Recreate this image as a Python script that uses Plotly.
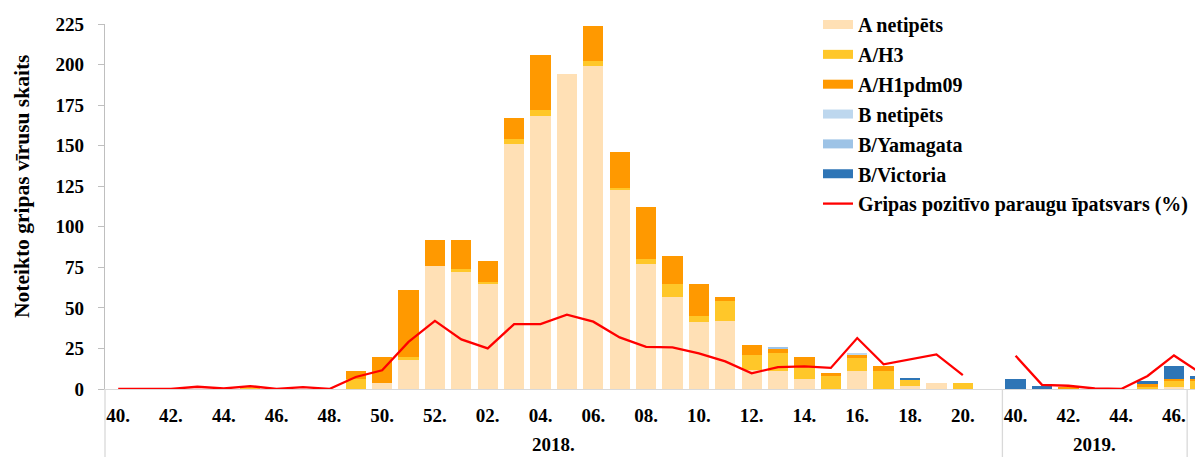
import plotly.graph_objects as go

# ---------------- data ----------------
weeks = ["40.", "41.", "42.", "43.", "44.", "45.", "46.", "47.", "48.", "49.", "50.", "51.", "52.",
         "01.", "02.", "03.", "04.", "05.", "06.", "07.", "08.", "09.", "10.", "11.", "12.", "13.",
         "14.", "15.", "16.", "17.", "18.", "19.", "20.", "21.",
         "40.", "41.", "42.", "43.", "44.", "45.", "46.",
         "47."]
season_labels = ["2018.", "2019.", ""]
season_sizes = [34, 7, 1]

a_net = [0, 0, 0, 0, 0, 0, 0, 0, 0, 0, 4, 18, 76,
         72, 65, 151, 168, 194, 199, 123, 77, 57, 41, 42, 12, 11,
         6, 0, 11, 0, 2, 4, 0, None,
         0, 0, 0, 0, 0, 0, 1,
         0]
a_h3 = [0, 0, 0, 0, 0, 1, 0, 0, 0, 6, 0, 2, 0,
        2, 1, 3, 4, 0, 3, 1, 3, 8, 4, 12, 9, 11,
        8, 8, 8, 11, 4, 0, 4, None,
        0, 0, 0, 0, 0, 1, 4,
        5]
a_h1 = [0, 0, 0, 0, 0, 0, 0, 0, 0, 5, 16, 41, 16,
        18, 13, 13, 34, 0, 22, 22, 32, 17, 20, 3, 6, 3,
        6, 2, 2, 3, 0, 0, 0, None,
        0, 0, 1, 0, 0, 2, 1,
        1]
b_net = [0, 0, 0, 0, 0, 0, 0, 0, 0, 0, 0, 0, 0,
         0, 0, 0, 0, 0, 0, 0, 0, 0, 0, 0, 0, 0,
         0, 0, 1, 0, 0, 0, 0, None,
         0, 0, 0, 0, 0, 0, 0,
         0]
b_yam = [0, 0, 0, 0, 0, 0, 0, 0, 0, 0, 0, 0, 0,
         0, 0, 0, 0, 0, 0, 0, 0, 0, 0, 0, 0, 1,
         0, 0, 0, 0, 0, 0, 0, None,
         0, 0, 0, 0, 0, 0, 0,
         0]
b_vic = [0, 0, 0, 0, 0, 0, 0, 0, 0, 0, 0, 0, 0,
         0, 0, 0, 0, 0, 0, 0, 0, 0, 0, 0, 0, 0,
         0, 0, 0, 0, 1, 0, 0, None,
         6, 2, 0, 0, 0, 2, 8,
         2]
positive_pct = [0, 0, 0, 1.4, 0.3, 1.8, 0, 1.2, 0, 7.4, 11.5, 29, 42,
                30.6, 25, 40, 40, 45.8, 41.5, 31.8, 26, 25.6, 22, 17, 9.7, 13.5,
                14, 13, 31.4, 15.2, 18.3, 21.3, 8.6, None,
                20.5, 2.6, 2, 0.3, 0, 8, 20.7,
                10]

series = [
    ("A netipēts", a_net, "#FFE0B5"),
    ("A/H3", a_h3, "#FFC729"),
    ("A/H1pdm09", a_h1, "#FF9900"),
    ("B netipēts", b_net, "#BDD7EE"),
    ("B/Yamagata", b_yam, "#9DC3E6"),
    ("B/Victoria", b_vic, "#2E75B6"),
]
line_name = "Gripas pozitīvo paraugu īpatsvars (%)"
y_title = "Noteikto gripas vīrusu skaits"
y_ticks = [0, 25, 50, 75, 100, 125, 150, 175, 200, 225]

# ---------------- figure ----------------
FONT = "Liberation Serif, Times New Roman, serif"
OFF = 8                      # default page (body) margin of the html page
W, H = 1203 - OFF, 457 - OFF
ML, MR, MT = 105 - OFF, 0, 24 - OFF
MB = H - (389 - OFF)
PW, PH = W - ML - MR, H - MT - MB
idx = list(range(len(weeks)))
XMIN, XMAX = -0.5, 41.1


def px_x(sx):   # screen x -> paper x
    return (sx - OFF - ML) / PW


def px_y(sy):   # screen y -> paper y
    return (H - MB - (sy - OFF)) / PH


fig = go.Figure()
for name, vals, col in series:
    fig.add_trace(go.Bar(x=idx, y=vals, name=name, marker=dict(color=col, line=dict(width=0)),
                         showlegend=False))
    # legend swatch entry
    fig.add_trace(go.Scatter(x=[None], y=[None], mode="lines", name=name,
                             line=dict(color=col, width=9), legendgroup=name))

fig.add_trace(go.Scatter(x=idx, y=positive_pct, mode="lines", name=line_name,
                         line=dict(color="#FF0000", width=2.3), connectgaps=False,
                         legendgroup=line_name))

# season dividers and labels
shapes = []
annotations = []
start = 0
bounds = [-0.5]
for lab, size in zip(season_labels, season_sizes):
    end = start + size
    bounds.append(end - 0.5)
    if lab:
        annotations.append(dict(x=(start + end - 1) / 2, xref="x", y=px_y(457),
                                yref="paper", text=lab, showarrow=False, yanchor="bottom",
                                font=dict(family=FONT, size=19, color="black", weight="bold")))
    start = end
for b in bounds:
    if XMIN - 0.01 <= b <= XMAX:
        px = (b - XMIN) / (XMAX - XMIN)
        shapes.append(dict(type="line", xref="paper", yref="paper", x0=px, x1=px,
                           y0=0, y1=-MB / PH, line=dict(color="#D9D9D9", width=1.3)))

annotations.append(dict(text=y_title, textangle=-90, xref="paper", yref="paper",
                        x=px_x(22), y=px_y(187), xanchor="center",
                        yanchor="middle", showarrow=False,
                        font=dict(family=FONT, size=21.5, color="black", weight="bold")))

fig.update_layout(
    width=W, height=H,
    margin=dict(l=ML, r=MR, t=MT, b=MB, autoexpand=False),
    paper_bgcolor="white", plot_bgcolor="white",
    barmode="stack", bargap=0.23,
    font=dict(family=FONT, size=19, color="black", weight="bold"),
    shapes=shapes, annotations=annotations,
    legend=dict(x=px_x(818), xanchor="left", y=px_y(5), yanchor="top",
                traceorder="grouped", tracegroupgap=0.85, maxheight=1.0,
                font=dict(family=FONT, size=20, color="black", weight="bold"),
                bgcolor="rgba(0,0,0,0)", itemwidth=30),
    xaxis=dict(range=[XMIN, XMAX], tickmode="array", tickvals=idx[0::2], ticktext=weeks[0::2],
               showline=True, linecolor="#D9D9D9", linewidth=1.3, ticks="", showgrid=False,
               zeroline=False, ticklabelstandoff=9,
               tickfont=dict(family=FONT, size=19, color="black", weight="bold")),
    yaxis=dict(range=[0, 225], tickmode="array", tickvals=y_ticks, showline=True,
               linecolor="#BFBFBF", linewidth=1.3, ticks="outside", ticklen=6, tickcolor="#BFBFBF",
               showgrid=False, zeroline=False, ticklabelstandoff=10,
               tickfont=dict(family=FONT, size=19, color="black", weight="bold")),
)

fig.write_html("out.html")
